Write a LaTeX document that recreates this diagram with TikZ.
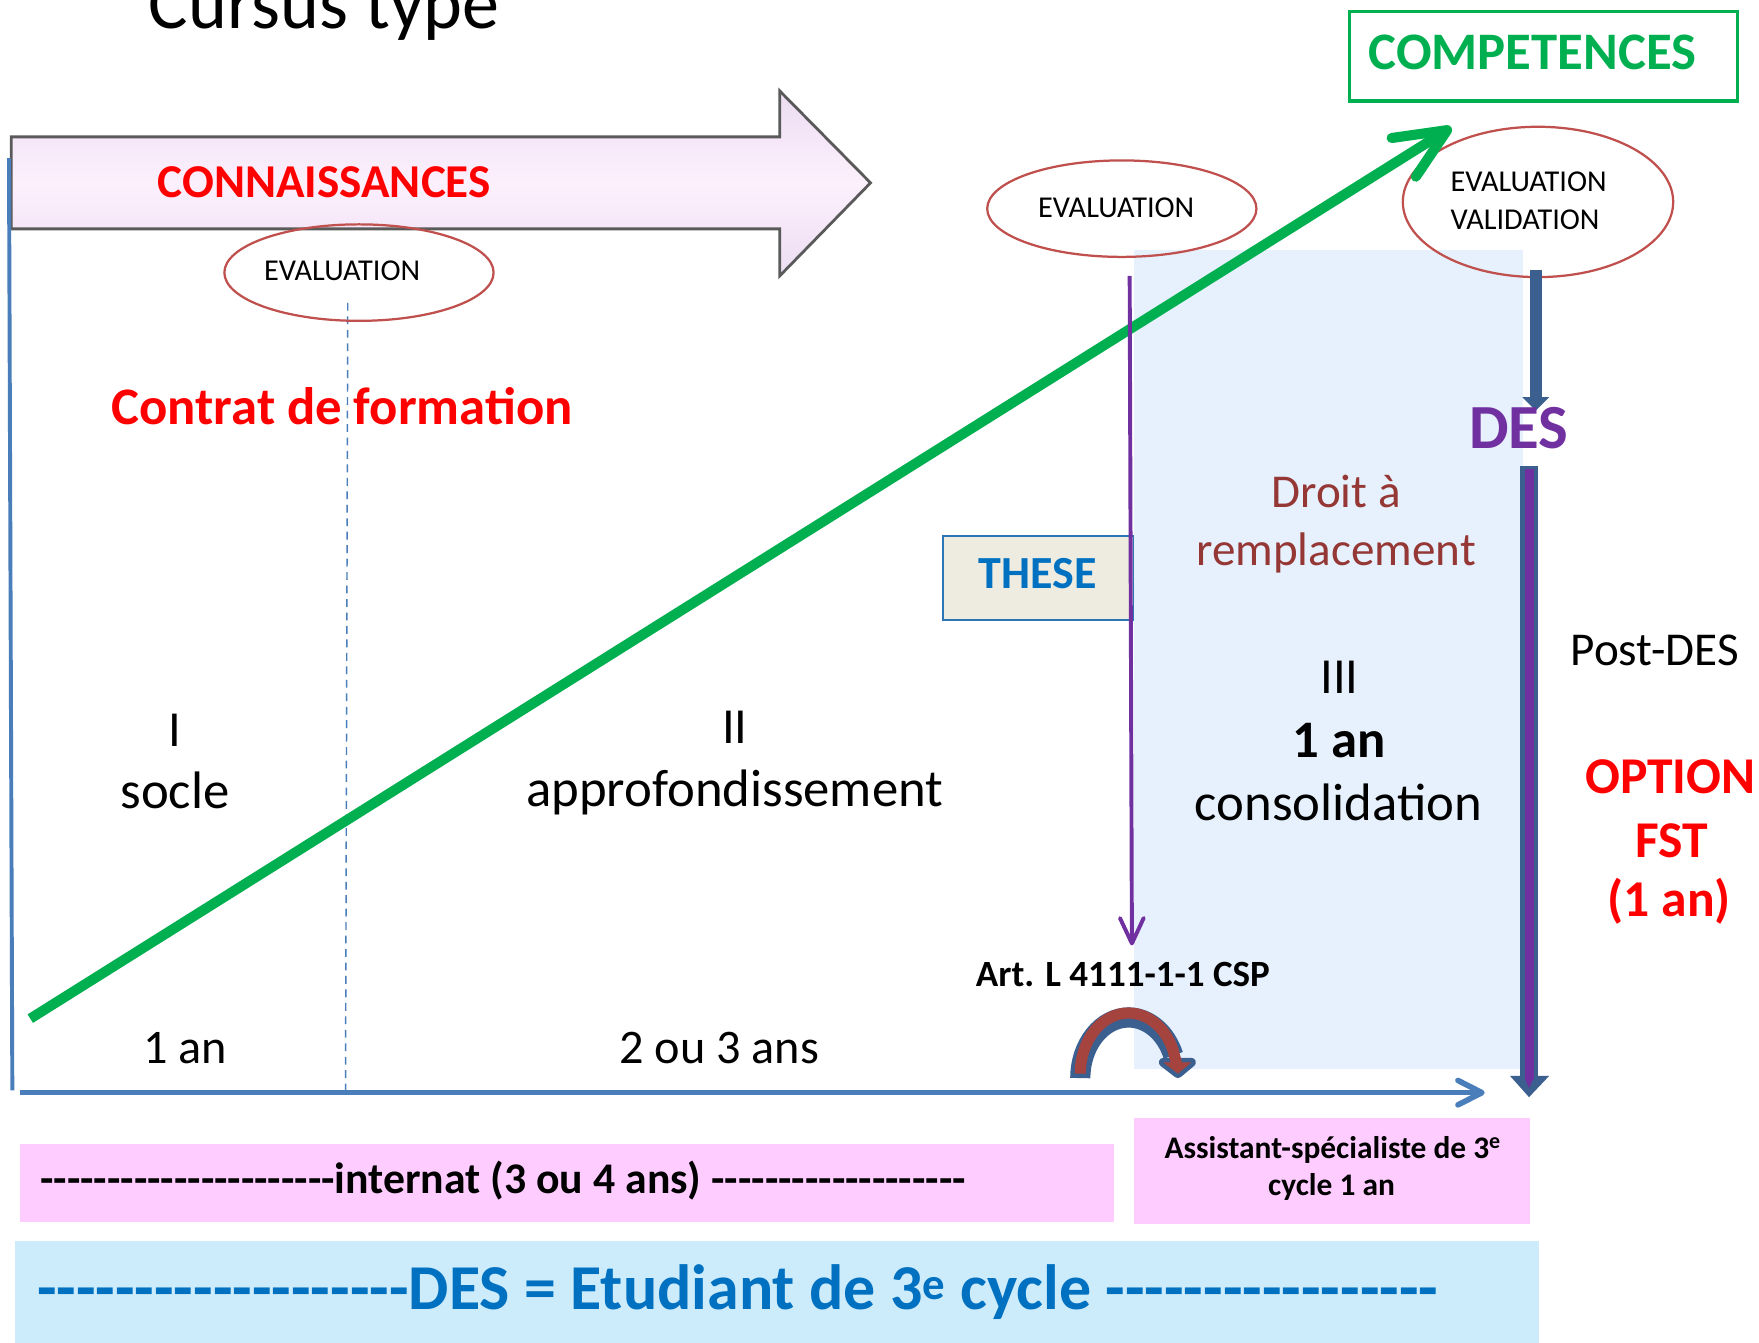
\documentclass[tikz,border=0pt]{standalone}
\usepackage{fontspec}
\setmainfont{Carlito}
\usetikzlibrary{arrows.meta,calc,shapes.geometric}
\newcommand{\fz}[1]{\fontsize{#1}{#1}\selectfont}
\newcommand{\dashes}[1]{\foreach \i in {1,...,#1}{-\kern0pt}}
\definecolor{cred}{HTML}{FF0000}
\definecolor{cgreen}{HTML}{00B050}
\definecolor{cpurple}{HTML}{7030A0}
\definecolor{cbrown}{HTML}{953735}
\definecolor{cblue}{HTML}{0070C0}
\definecolor{axisblue}{HTML}{4A7EBB}
\definecolor{darkblue}{HTML}{3B5F8F}
\definecolor{ellred}{HTML}{C0504D}
\definecolor{pinkbox}{HTML}{FFCCFF}
\definecolor{lightbluebox}{HTML}{CCEBFB}
\definecolor{areablue}{HTML}{E6F1FD}
\definecolor{theseFill}{HTML}{EEECE1}
\definecolor{theseBorder}{HTML}{2E75B6}
\definecolor{arrowfill}{HTML}{FDF0FD}
\definecolor{arrowedge}{HTML}{ECDDF2}
\definecolor{arrowborder}{HTML}{5A5A5A}
\definecolor{uturnred}{HTML}{A5433F}
\begin{document}
\begin{tikzpicture}[x=1pt,y=-1pt,
  every node/.style={inner sep=0pt, outer sep=0pt},
  lbl/.style={anchor=base, text=black},
  evalell/.style={ellipse, draw=ellred, line width=2pt},
  plainbox/.style={anchor=north west}]
\useasboundingbox (0,0) rectangle (1568,1197);
\fill[white] (0,0) rectangle (1568,1197);

% background boxes
\node[plainbox, fill=lightbluebox, minimum width=1359pt, minimum height=95pt] (desbox) at (13,1106) {};
\node[plainbox, fill=pinkbox, minimum width=975pt, minimum height=69pt] (intbox) at (18,1020) {};
\node[plainbox, fill=pinkbox, minimum width=353pt, minimum height=94pt] (asbox) at (1011,997) {};
\node[plainbox, fill=areablue, minimum width=347pt, minimum height=730pt] (area) at (1011,223) {};

% CONNAISSANCES arrow
\path[draw=arrowborder, line width=2.5pt, top color=arrowedge, bottom color=arrowedge, middle color=arrowfill]
  (10,122) -- (695,122) -- (695,81) -- (776,163) -- (695,246) -- (695,204) -- (10,204) -- cycle;

% axes
\coordinate (ytop) at (8,141);
\coordinate (ybot) at (11,972);
\draw[axisblue, line width=3.5pt] (ytop) -- (ybot);
\coordinate (xo) at (18,974);
\coordinate (xend) at (1321,974);
\draw[axisblue, line width=5pt] (xo) -- (xend);
\draw[axisblue, line width=5pt, line cap=round, line join=round]
  ($(xend)!24pt!27:(xo)$) -- (xend) -- ($(xend)!24pt!-27:(xo)$);
\coordinate (dtop) at (310,270);
\coordinate (dbot) at (308,972);
\draw[axisblue, line width=1.3pt, dash pattern=on 7pt off 5pt] (dtop) -- (dbot);

% boxes with borders
\node[draw=cgreen, line width=3pt, minimum width=346pt, minimum height=80pt] (comp) at (1376,50) {};
\node[draw=theseBorder, fill=theseFill, line width=1.5pt, minimum width=170pt, minimum height=75pt] (these) at (925.5,515) {};

% ellipses
\node[evalell, minimum width=240pt, minimum height=86pt] (ev1) at (320,243) {};
\node[evalell, minimum width=240pt, minimum height=86pt] (ev2) at (1000,186) {};
\node[evalell, minimum width=241pt, minimum height=134pt] (ev3) at (1371,180) {};

% green arrow
\coordinate (gs) at (27,908);
\coordinate (gt) at (1290,116);
\draw[cgreen, line width=9pt] (gs) -- (gt);
\draw[cgreen, line width=9pt, line cap=round, line join=round]
  ($(gt)!50pt!24:(gs)$) -- (gt) -- ($(gt)!50pt!-24:(gs)$);

% purple thin arrow
\coordinate (ps) at (1007,246);
\coordinate (pe) at (1009,841);
\draw[cpurple, line width=3.5pt] (ps) -- (pe);
\draw[cpurple, line width=3.5pt, line cap=round, line join=round]
  ($(pe)!25pt!25:(ps)$) -- (pe) -- ($(pe)!25pt!-25:(ps)$);

% DES arrow from validation
\coordinate (da) at (1369,241);
\coordinate (db) at (1369,356);
\draw[darkblue, line width=11pt] (da) -- (db);
\fill[darkblue] (1357,354) -- (1381,354) -- (1369,366) -- cycle;

% long right arrow
\coordinate (la) at (1363,415);
\coordinate (lb) at (1363,962);
\draw[darkblue, line width=16pt] (la) -- (lb);
\fill[darkblue] (1346,959) -- (1381,959) -- (1363,978) -- cycle;
\draw[cpurple, line width=8pt] (1363,418) -- (lb);
\fill[cpurple] (1359,961) -- (1367,961) -- (1363,970) -- cycle;

% U-turn arrow
\draw[darkblue, line width=18pt] (963,961) arc[start angle=180, end angle=338, x radius=43, y radius=54];
\filldraw[darkblue, line width=8pt, line join=round] (1037,947) -- (1062,947) -- (1050,957) -- cycle;
\draw[uturnred, line width=10pt] (963,957) arc[start angle=180, end angle=338, x radius=43, y radius=54] -- (1049,949);
\fill[uturnred] (1037,947) -- (1062,947) -- (1050,957) -- cycle;

% texts
\node[lbl, font=\fz{66}] (title) at (289,25) {Cursus type};
\node[lbl, font=\fz{42}\bfseries, text=cred] (conn) at (289,176) {CONNAISSANCES};
\node[lbl, font=\fz{27}] (ev1t) at (305,250) {EVALUATION};
\node[lbl, font=\fz{47}\bfseries, text=cred] (contrat) at (305,378) {Contrat de formation};
\node[lbl, font=\fz{47}\bfseries, text=cgreen] (compt) at (1366,62) {COMPETENCES};
\node[lbl, font=\fz{27}] (ev2t) at (995,194) {EVALUATION};
\node[lbl, anchor=base west, font=\fz{27}] (ev3a) at (1293,171) {EVALUATION};
\node[lbl, anchor=base west, font=\fz{27}] (ev3b) at (1293,205) {VALIDATION};
\node[lbl, font=\fz{56}\bfseries, text=cpurple] (des) at (1354,400) {DES};
\node[lbl, font=\fz{42}, text=cbrown] (droit) at (1191,452) {Droit à};
\node[lbl, font=\fz{42}, text=cbrown] (rempl) at (1191,504) {remplacement};
\node[lbl, font=\fz{45}] (III) at (1194,618) {III};
\node[lbl, font=\fz{47}\bfseries] (unan) at (1194,675) {1 an};
\node[lbl, font=\fz{47}] (conso) at (1193,731) {consolidation};
\node[lbl, font=\fz{45}] (I) at (156,665) {I};
\node[lbl, font=\fz{47}] (socle) at (156,721) {socle};
\node[lbl, font=\fz{45}] (II) at (655,663) {II};
\node[lbl, font=\fz{47}] (appro) at (655,719) {approfondissement};
\node[lbl, font=\fz{42}] (postdes) at (1475,593) {Post-DES};
\node[lbl, font=\fz{46}\bfseries, text=cred] (opt) at (1489,707) {OPTION};
\node[lbl, font=\fz{46}\bfseries, text=cred] (fst) at (1490,764) {FST};
\node[lbl, font=\fz{46}\bfseries, text=cred] (optan) at (1488,817) {(1 an)};
\node[lbl, font=\fz{41}\bfseries, text=cblue] (theset) at (925,525) {THESE};
\node[lbl, font=\fz{33}\bfseries] (art) at (1001,879) {Art. L 4111-1-1 CSP};
\node[lbl, font=\fz{28}\bfseries] (asst) at (1188,1033) {Assistant-spécialiste de 3\textsuperscript{e}};
\node[lbl, font=\fz{28}\bfseries] (cyc) at (1187,1066) {cycle 1 an};
\node[lbl, font=\fz{43}] (an1) at (165,948) {1 an};
\node[lbl, font=\fz{43}] (an23) at (641,948) {2 ou 3 ans};
\node[lbl, anchor=base west, font=\fz{39}\bfseries] (intt) at (36,1064) {\dashes{22}internat (3 ou 4 ans) \dashes{19}};
\node[lbl, anchor=base west, font=\fz{57}\bfseries, text=cblue] (dest) at (33,1167) {\dashes{19}DES = Etudiant de 3\textsuperscript{e} cycle \dashes{17}};
\end{tikzpicture}
\end{document}
